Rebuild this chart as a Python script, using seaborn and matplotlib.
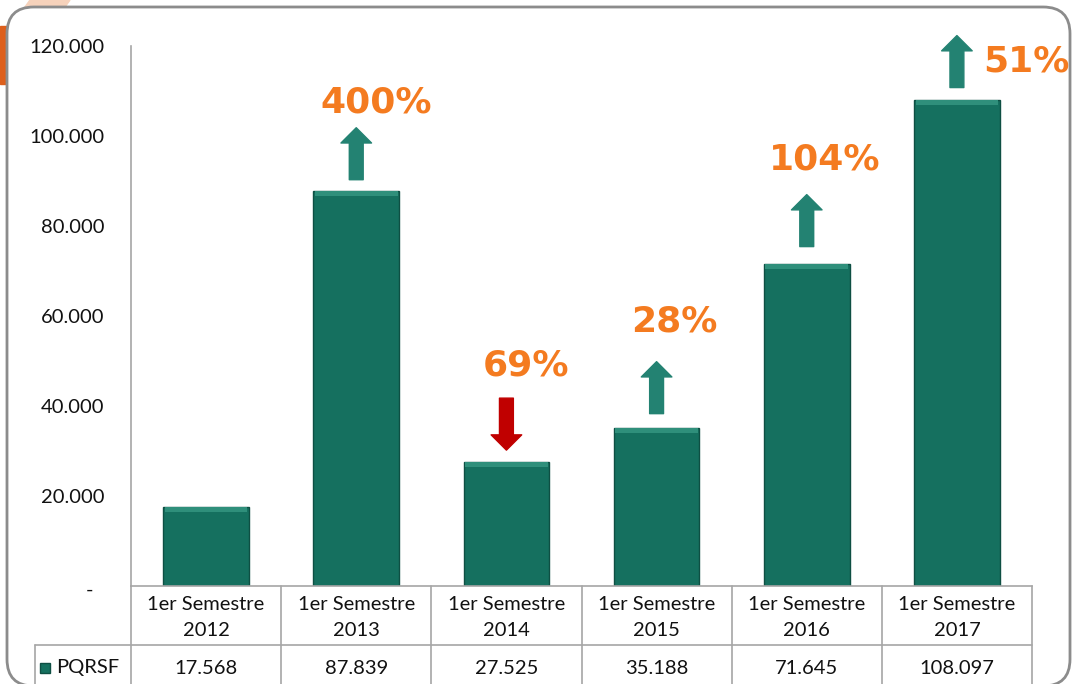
import numpy as np
import pandas as pd
import matplotlib
matplotlib.use("Agg")
import matplotlib.pyplot as plt
import matplotlib.transforms as mtransforms
import seaborn as sns
from matplotlib.patches import FancyBboxPatch, Polygon

# datos
periodos = ["1er Semestre\n2012", "1er Semestre\n2013", "1er Semestre\n2014",
            "1er Semestre\n2015", "1er Semestre\n2016", "1er Semestre\n2017"]
pqrsf = [17568, 87839, 27525, 35188, 71645, 108097]
variacion = ["", "400%", "69%", "28%", "104%", "51%"]
sube = [None, True, False, True, True, True]
serie = "PQRSF"

# layout de flechas / etiquetas (en pixeles)
gap_px = [0, 11, 12, 14, 17, 12]
lbl_dx = [0, 20, 20, 18, 18, 69]
lbl_dy = [0, 25, 33, 40, 35, -26]

df = pd.DataFrame({"periodo": periodos, "pqrsf": pqrsf})

sns.set_theme(style="white")
plt.rcParams['font.family'] = ['Lato', 'DejaVu Sans']

VERDE = "#15705f"
VERDE_FLECHA = "#238272"
ROJO = "#c00000"
NARANJA = "#f47b20"
GRIS = "#a6a6a6"
FS = 14.5

W, H = 1074, 684
fig = plt.figure(figsize=(W / 100, H / 100), dpi=100)

# decoracion esquina y marco
fig.patches.append(Polygon([(0, 1 - 26 / H), (22 / W, 1 - 26 / H), (22 / W, 1 - 84 / H), (0, 1 - 84 / H)],
                           closed=True, transform=fig.transFigure, color="#dd5f1c", zorder=0))
fig.patches.append(Polygon([(30 / W, 1), (70 / W, 1), (60 / W, 1 - 14 / H), (20 / W, 1 - 14 / H)],
                           closed=True, transform=fig.transFigure, color="#f6d2bb", zorder=0))
marco = FancyBboxPatch((7 / W, -2 / H), (1070 - 7) / W, (677 + 2) / H,
                       boxstyle="round,pad=0,rounding_size=0.025", mutation_aspect=W / H,
                       transform=fig.transFigure, facecolor="white", edgecolor="#8c8c8c",
                       linewidth=2, zorder=1)
fig.patches.append(marco)

ax = fig.add_axes([131 / W, 1 - 586 / H, 901 / W, 540 / H])
ax.set_zorder(2)
ax.patch.set_alpha(0)

sns.barplot(data=df, x="periodo", y="pqrsf", color=VERDE, saturation=1, width=0.57,
            edgecolor="#0e4f43", linewidth=1, ax=ax)

ax.set_xlim(-0.5, 5.5)
ax.set_ylim(0, 120000)
px = 120000 / 540  # unidades por pixel

# brillo superior de cada barra
ax.bar(range(len(pqrsf)), 5 * px, bottom=np.array(pqrsf) - 5 * px, width=0.55,
       color="#2f8f7b", linewidth=0, zorder=3)

ticks = np.arange(0, 120001, 20000)
ax.set_yticks(ticks)
ax.set_yticklabels(["-" if t == 0 else f"{t:,.0f}".replace(",", ".") for t in ticks])
ax.tick_params(axis="y", length=0, pad=19, labelsize=FS, labelcolor="#111111")
cero = ax.get_yticklabels()[0]
cero.set_transform(cero.get_transform() +
                   mtransforms.ScaledTranslation(-0.11, -0.03, fig.dpi_scale_trans))
ax.set_xticks(range(len(periodos)))
ax.set_xticklabels([])
ax.tick_params(axis="x", length=0)
ax.set_xlabel("")
ax.set_ylabel("")
for s in ["top", "right"]:
    ax.spines[s].set_visible(False)
for s in ["left", "bottom"]:
    ax.spines[s].set_color(GRIS)
    ax.spines[s].set_linewidth(1.2)

# flechas y porcentajes
for i, (v, lab, up) in enumerate(zip(pqrsf, variacion, sube)):
    if up is None:
        continue
    base = v + gap_px[i] * px
    top = base + 52 * px
    if up:
        start, end, col = base, top, VERDE_FLECHA
    else:
        start, end, col = top, base, ROJO
    ax.annotate("", xy=(i, end), xytext=(i, start),
                arrowprops=dict(arrowstyle="simple,head_length=1.1,head_width=2.2,tail_width=1.0",
                                mutation_scale=10, color=col, shrinkA=0, shrinkB=0),
                annotation_clip=False)
    ax.text(i + lbl_dx[i] / 150, top + lbl_dy[i] * px, lab, ha="center", va="center",
            fontsize=26, fontweight="bold", color=NARANJA, family="DejaVu Sans", clip_on=False)

# tabla de datos
tr = ax.get_xaxis_transform()
h1 = -59 / 540
h2 = -0.25
xl = -0.5 - 96 / 150
for k in range(len(periodos) + 1):
    ax.plot([k - 0.5, k - 0.5], [0, h2], color=GRIS, lw=1.2, transform=tr, clip_on=False)
ax.plot([xl, xl], [h1, h2], color=GRIS, lw=1.2, transform=tr, clip_on=False)
ax.plot([xl, 5.5], [h1, h1], color=GRIS, lw=1.2, transform=tr, clip_on=False)

for i, (p, v) in enumerate(zip(periodos, pqrsf)):
    ax.text(i, h1 / 2 - 2 / 540, p, ha="center", va="center", fontsize=FS, color="#111111",
            linespacing=1.7, transform=tr, clip_on=False)
    ax.text(i, -82 / 540, f"{v:,.0f}".replace(",", "."), ha="center", va="center",
            fontsize=FS, color="#111111", transform=tr, clip_on=False)

ax.plot([xl + 10 / 150], [-82 / 540], marker="s", ms=7, color=VERDE, mec="#0e4f43",
        transform=tr, clip_on=False)
ax.text(xl + 21 / 150, -82 / 540, serie, ha="left", va="center", fontsize=FS,
        color="#111111", transform=tr, clip_on=False)

fig.savefig("out.png", dpi=100)
